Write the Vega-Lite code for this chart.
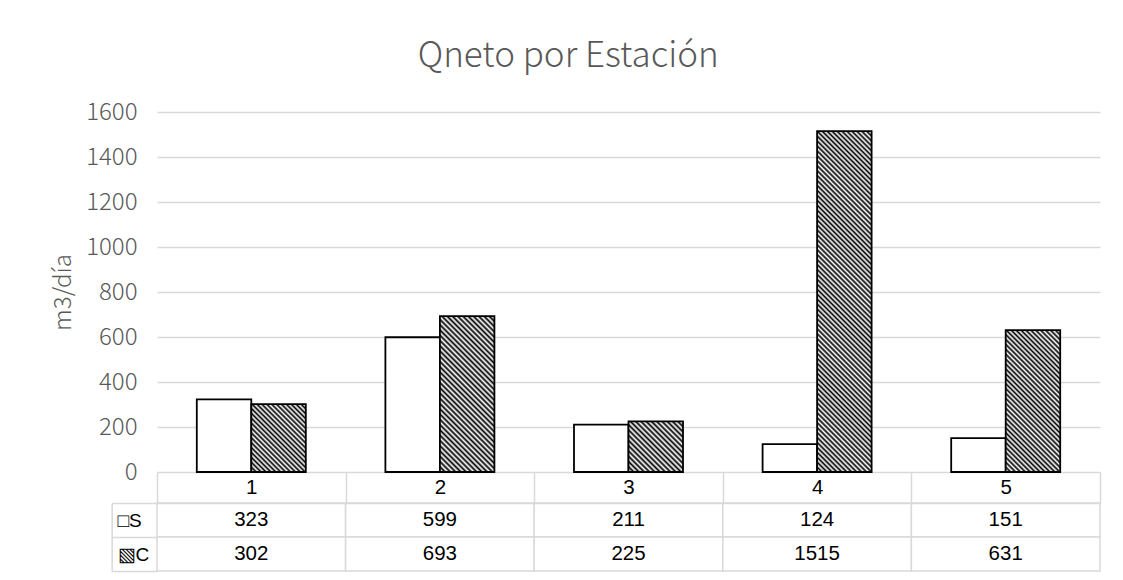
{
  "$schema": "https://vega.github.io/schema/vega-lite/v6.json",
  "padding": {"left": 51, "top": 39, "right": 15, "bottom": 5},
  "background": "white",
  "title": {"text": "Qneto por Estación", "fontSize": 35, "font": "Noto Sans CJK SC", "fontWeight": 300, "color": "#595959", "anchor": "middle", "offset": 26, "dx": -8},
  "data": {"values": [
    {"estacion": 1, "serie": "S", "valor": 323},
    {"estacion": 2, "serie": "S", "valor": 599},
    {"estacion": 3, "serie": "S", "valor": 211},
    {"estacion": 4, "serie": "S", "valor": 124},
    {"estacion": 5, "serie": "S", "valor": 151},
    {"estacion": 1, "serie": "C", "valor": 302},
    {"estacion": 2, "serie": "C", "valor": 693},
    {"estacion": 3, "serie": "C", "valor": 225},
    {"estacion": 4, "serie": "C", "valor": 1515},
    {"estacion": 5, "serie": "C", "valor": 631}
  ]},
  "bounds": "flush",
  "spacing": 31,
  "resolve": {"scale": {"x": "independent", "y": "independent"}},
  "vconcat": [
    {
      "width": 943,
      "height": 360,
      "mark": {"type": "bar", "stroke": "#000", "strokeWidth": 1.8},
      "encoding": {
        "x": {"field": "estacion", "type": "ordinal", "axis": null, "scale": {"paddingInner": 0.422, "paddingOuter": 0.211}},
        "xOffset": {"field": "serie", "type": "nominal", "sort": ["S", "C"], "scale": {"paddingInner": 0, "paddingOuter": 0}},
        "y": {"field": "valor", "type": "quantitative", "scale": {"domain": [0, 1600], "nice": false},
          "axis": {"values": [0, 200, 400, 600, 800, 1000, 1200, 1400, 1600], "format": "d", "title": "m3/día", "titleFont": "Noto Sans CJK SC", "titleFontWeight": 300, "titleFontSize": 24, "titleColor": "#595959", "titlePadding": 10,
            "labelFont": "Noto Sans CJK SC", "labelFontWeight": 300, "labelFontSize": 24, "labelColor": "#595959", "labelPadding": 20,
            "ticks": false, "domain": false, "grid": true, "gridColor": "#d9d9d9", "gridWidth": 1.5}},
        "fill": {
          "condition": [
            {"test": "datum.serie == 'C' && datum.estacion == 1", "value": {"gradient": "linear", "x1": 0, "y1": 1, "x2": 0.8796, "y2": -0.0967, "stops": [
              {"offset":0,"color":"#000"},{"offset":0.02,"color":"#fff"},{"offset":0.04,"color":"#000"},{"offset":0.06,"color":"#fff"},{"offset":0.08,"color":"#000"},{"offset":0.1,"color":"#fff"},{"offset":0.12,"color":"#000"},{"offset":0.14,"color":"#fff"},{"offset":0.16,"color":"#000"},{"offset":0.18,"color":"#fff"},
              {"offset":0.2,"color":"#000"},{"offset":0.22,"color":"#fff"},{"offset":0.24,"color":"#000"},{"offset":0.26,"color":"#fff"},{"offset":0.28,"color":"#000"},{"offset":0.3,"color":"#fff"},{"offset":0.32,"color":"#000"},{"offset":0.34,"color":"#fff"},{"offset":0.36,"color":"#000"},{"offset":0.38,"color":"#fff"},
              {"offset":0.4,"color":"#000"},{"offset":0.42,"color":"#fff"},{"offset":0.44,"color":"#000"},{"offset":0.46,"color":"#fff"},{"offset":0.48,"color":"#000"},{"offset":0.5,"color":"#fff"},{"offset":0.52,"color":"#000"},{"offset":0.54,"color":"#fff"},{"offset":0.56,"color":"#000"},{"offset":0.58,"color":"#fff"},
              {"offset":0.6,"color":"#000"},{"offset":0.62,"color":"#fff"},{"offset":0.64,"color":"#000"},{"offset":0.66,"color":"#fff"},{"offset":0.68,"color":"#000"},{"offset":0.7,"color":"#fff"},{"offset":0.72,"color":"#000"},{"offset":0.74,"color":"#fff"},{"offset":0.76,"color":"#000"},{"offset":0.78,"color":"#fff"},
              {"offset":0.8,"color":"#000"},{"offset":0.82,"color":"#fff"},{"offset":0.84,"color":"#000"},{"offset":0.86,"color":"#fff"},{"offset":0.88,"color":"#000"},{"offset":0.9,"color":"#fff"},{"offset":0.92,"color":"#000"},{"offset":0.94,"color":"#fff"},{"offset":0.96,"color":"#000"},{"offset":0.98,"color":"#fff"},
              {"offset":1,"color":"#000"}]}},
            {"test": "datum.serie == 'C' && datum.estacion == 2", "value": {"gradient": "linear", "x1": 0, "y1": 1, "x2": 0.4204, "y2": -0.2026, "stops": [
              {"offset":0,"color":"#000"},{"offset":0.0125,"color":"#fff"},{"offset":0.025,"color":"#000"},{"offset":0.0375,"color":"#fff"},{"offset":0.05,"color":"#000"},{"offset":0.0625,"color":"#fff"},{"offset":0.075,"color":"#000"},{"offset":0.0875,"color":"#fff"},
              {"offset":0.1,"color":"#000"},{"offset":0.1125,"color":"#fff"},{"offset":0.125,"color":"#000"},{"offset":0.1375,"color":"#fff"},{"offset":0.15,"color":"#000"},{"offset":0.1625,"color":"#fff"},{"offset":0.175,"color":"#000"},{"offset":0.1875,"color":"#fff"},
              {"offset":0.2,"color":"#000"},{"offset":0.2125,"color":"#fff"},{"offset":0.225,"color":"#000"},{"offset":0.2375,"color":"#fff"},{"offset":0.25,"color":"#000"},{"offset":0.2625,"color":"#fff"},{"offset":0.275,"color":"#000"},{"offset":0.2875,"color":"#fff"},
              {"offset":0.3,"color":"#000"},{"offset":0.3125,"color":"#fff"},{"offset":0.325,"color":"#000"},{"offset":0.3375,"color":"#fff"},{"offset":0.35,"color":"#000"},{"offset":0.3625,"color":"#fff"},{"offset":0.375,"color":"#000"},{"offset":0.3875,"color":"#fff"},
              {"offset":0.4,"color":"#000"},{"offset":0.4125,"color":"#fff"},{"offset":0.425,"color":"#000"},{"offset":0.4375,"color":"#fff"},{"offset":0.45,"color":"#000"},{"offset":0.4625,"color":"#fff"},{"offset":0.475,"color":"#000"},{"offset":0.4875,"color":"#fff"},
              {"offset":0.5,"color":"#000"},{"offset":0.5125,"color":"#fff"},{"offset":0.525,"color":"#000"},{"offset":0.5375,"color":"#fff"},{"offset":0.55,"color":"#000"},{"offset":0.5625,"color":"#fff"},{"offset":0.575,"color":"#000"},{"offset":0.5875,"color":"#fff"},
              {"offset":0.6,"color":"#000"},{"offset":0.6125,"color":"#fff"},{"offset":0.625,"color":"#000"},{"offset":0.6375,"color":"#fff"},{"offset":0.65,"color":"#000"},{"offset":0.6625,"color":"#fff"},{"offset":0.675,"color":"#000"},{"offset":0.6875,"color":"#fff"},
              {"offset":0.7,"color":"#000"},{"offset":0.7125,"color":"#fff"},{"offset":0.725,"color":"#000"},{"offset":0.7375,"color":"#fff"},{"offset":0.75,"color":"#000"},{"offset":0.7625,"color":"#fff"},{"offset":0.775,"color":"#000"},{"offset":0.7875,"color":"#fff"},
              {"offset":0.8,"color":"#000"},{"offset":0.8125,"color":"#fff"},{"offset":0.825,"color":"#000"},{"offset":0.8375,"color":"#fff"},{"offset":0.85,"color":"#000"},{"offset":0.8625,"color":"#fff"},{"offset":0.875,"color":"#000"},{"offset":0.8875,"color":"#fff"},
              {"offset":0.9,"color":"#000"},{"offset":0.9125,"color":"#fff"},{"offset":0.925,"color":"#000"},{"offset":0.9375,"color":"#fff"},{"offset":0.95,"color":"#000"},{"offset":0.9625,"color":"#fff"},{"offset":0.975,"color":"#000"},{"offset":0.9875,"color":"#fff"},
              {"offset":1,"color":"#000"}]}},
            {"test": "datum.serie == 'C' && datum.estacion == 3", "value": {"gradient": "linear", "x1": 0, "y1": 1, "x2": 1.0358, "y2": 0.0383, "stops": [
              {"offset":0,"color":"#000"},{"offset":0.025,"color":"#fff"},{"offset":0.05,"color":"#000"},{"offset":0.075,"color":"#fff"},{"offset":0.1,"color":"#000"},{"offset":0.125,"color":"#fff"},{"offset":0.15,"color":"#000"},{"offset":0.175,"color":"#fff"},
              {"offset":0.2,"color":"#000"},{"offset":0.225,"color":"#fff"},{"offset":0.25,"color":"#000"},{"offset":0.275,"color":"#fff"},{"offset":0.3,"color":"#000"},{"offset":0.325,"color":"#fff"},{"offset":0.35,"color":"#000"},{"offset":0.375,"color":"#fff"},
              {"offset":0.4,"color":"#000"},{"offset":0.425,"color":"#fff"},{"offset":0.45,"color":"#000"},{"offset":0.475,"color":"#fff"},{"offset":0.5,"color":"#000"},{"offset":0.525,"color":"#fff"},{"offset":0.55,"color":"#000"},{"offset":0.575,"color":"#fff"},
              {"offset":0.6,"color":"#000"},{"offset":0.625,"color":"#fff"},{"offset":0.65,"color":"#000"},{"offset":0.675,"color":"#fff"},{"offset":0.7,"color":"#000"},{"offset":0.725,"color":"#fff"},{"offset":0.75,"color":"#000"},{"offset":0.775,"color":"#fff"},
              {"offset":0.8,"color":"#000"},{"offset":0.825,"color":"#fff"},{"offset":0.85,"color":"#000"},{"offset":0.875,"color":"#fff"},{"offset":0.9,"color":"#000"},{"offset":0.925,"color":"#fff"},{"offset":0.95,"color":"#000"},{"offset":0.975,"color":"#fff"},
              {"offset":1,"color":"#000"}]}},
            {"test": "datum.serie == 'C' && datum.estacion == 4", "value": {"gradient": "linear", "x1": 0, "y1": 1, "x2": 0.1808, "y2": -0.131, "stops": [
              {"offset":0,"color":"#000"},{"offset":0.00625,"color":"#fff"},{"offset":0.0125,"color":"#000"},{"offset":0.01875,"color":"#fff"},{"offset":0.025,"color":"#000"},{"offset":0.03125,"color":"#fff"},{"offset":0.0375,"color":"#000"},{"offset":0.04375,"color":"#fff"},{"offset":0.05,"color":"#000"},{"offset":0.05625,"color":"#fff"},{"offset":0.0625,"color":"#000"},{"offset":0.06875,"color":"#fff"},{"offset":0.075,"color":"#000"},{"offset":0.08125,"color":"#fff"},{"offset":0.0875,"color":"#000"},{"offset":0.09375,"color":"#fff"},
              {"offset":0.1,"color":"#000"},{"offset":0.10625,"color":"#fff"},{"offset":0.1125,"color":"#000"},{"offset":0.11875,"color":"#fff"},{"offset":0.125,"color":"#000"},{"offset":0.13125,"color":"#fff"},{"offset":0.1375,"color":"#000"},{"offset":0.14375,"color":"#fff"},{"offset":0.15,"color":"#000"},{"offset":0.15625,"color":"#fff"},{"offset":0.1625,"color":"#000"},{"offset":0.16875,"color":"#fff"},{"offset":0.175,"color":"#000"},{"offset":0.18125,"color":"#fff"},{"offset":0.1875,"color":"#000"},{"offset":0.19375,"color":"#fff"},
              {"offset":0.2,"color":"#000"},{"offset":0.20625,"color":"#fff"},{"offset":0.2125,"color":"#000"},{"offset":0.21875,"color":"#fff"},{"offset":0.225,"color":"#000"},{"offset":0.23125,"color":"#fff"},{"offset":0.2375,"color":"#000"},{"offset":0.24375,"color":"#fff"},{"offset":0.25,"color":"#000"},{"offset":0.25625,"color":"#fff"},{"offset":0.2625,"color":"#000"},{"offset":0.26875,"color":"#fff"},{"offset":0.275,"color":"#000"},{"offset":0.28125,"color":"#fff"},{"offset":0.2875,"color":"#000"},{"offset":0.29375,"color":"#fff"},
              {"offset":0.3,"color":"#000"},{"offset":0.30625,"color":"#fff"},{"offset":0.3125,"color":"#000"},{"offset":0.31875,"color":"#fff"},{"offset":0.325,"color":"#000"},{"offset":0.33125,"color":"#fff"},{"offset":0.3375,"color":"#000"},{"offset":0.34375,"color":"#fff"},{"offset":0.35,"color":"#000"},{"offset":0.35625,"color":"#fff"},{"offset":0.3625,"color":"#000"},{"offset":0.36875,"color":"#fff"},{"offset":0.375,"color":"#000"},{"offset":0.38125,"color":"#fff"},{"offset":0.3875,"color":"#000"},{"offset":0.39375,"color":"#fff"},
              {"offset":0.4,"color":"#000"},{"offset":0.40625,"color":"#fff"},{"offset":0.4125,"color":"#000"},{"offset":0.41875,"color":"#fff"},{"offset":0.425,"color":"#000"},{"offset":0.43125,"color":"#fff"},{"offset":0.4375,"color":"#000"},{"offset":0.44375,"color":"#fff"},{"offset":0.45,"color":"#000"},{"offset":0.45625,"color":"#fff"},{"offset":0.4625,"color":"#000"},{"offset":0.46875,"color":"#fff"},{"offset":0.475,"color":"#000"},{"offset":0.48125,"color":"#fff"},{"offset":0.4875,"color":"#000"},{"offset":0.49375,"color":"#fff"},
              {"offset":0.5,"color":"#000"},{"offset":0.50625,"color":"#fff"},{"offset":0.5125,"color":"#000"},{"offset":0.51875,"color":"#fff"},{"offset":0.525,"color":"#000"},{"offset":0.53125,"color":"#fff"},{"offset":0.5375,"color":"#000"},{"offset":0.54375,"color":"#fff"},{"offset":0.55,"color":"#000"},{"offset":0.55625,"color":"#fff"},{"offset":0.5625,"color":"#000"},{"offset":0.56875,"color":"#fff"},{"offset":0.575,"color":"#000"},{"offset":0.58125,"color":"#fff"},{"offset":0.5875,"color":"#000"},{"offset":0.59375,"color":"#fff"},
              {"offset":0.6,"color":"#000"},{"offset":0.60625,"color":"#fff"},{"offset":0.6125,"color":"#000"},{"offset":0.61875,"color":"#fff"},{"offset":0.625,"color":"#000"},{"offset":0.63125,"color":"#fff"},{"offset":0.6375,"color":"#000"},{"offset":0.64375,"color":"#fff"},{"offset":0.65,"color":"#000"},{"offset":0.65625,"color":"#fff"},{"offset":0.6625,"color":"#000"},{"offset":0.66875,"color":"#fff"},{"offset":0.675,"color":"#000"},{"offset":0.68125,"color":"#fff"},{"offset":0.6875,"color":"#000"},{"offset":0.69375,"color":"#fff"},
              {"offset":0.7,"color":"#000"},{"offset":0.70625,"color":"#fff"},{"offset":0.7125,"color":"#000"},{"offset":0.71875,"color":"#fff"},{"offset":0.725,"color":"#000"},{"offset":0.73125,"color":"#fff"},{"offset":0.7375,"color":"#000"},{"offset":0.74375,"color":"#fff"},{"offset":0.75,"color":"#000"},{"offset":0.75625,"color":"#fff"},{"offset":0.7625,"color":"#000"},{"offset":0.76875,"color":"#fff"},{"offset":0.775,"color":"#000"},{"offset":0.78125,"color":"#fff"},{"offset":0.7875,"color":"#000"},{"offset":0.79375,"color":"#fff"},
              {"offset":0.8,"color":"#000"},{"offset":0.80625,"color":"#fff"},{"offset":0.8125,"color":"#000"},{"offset":0.81875,"color":"#fff"},{"offset":0.825,"color":"#000"},{"offset":0.83125,"color":"#fff"},{"offset":0.8375,"color":"#000"},{"offset":0.84375,"color":"#fff"},{"offset":0.85,"color":"#000"},{"offset":0.85625,"color":"#fff"},{"offset":0.8625,"color":"#000"},{"offset":0.86875,"color":"#fff"},{"offset":0.875,"color":"#000"},{"offset":0.88125,"color":"#fff"},{"offset":0.8875,"color":"#000"},{"offset":0.89375,"color":"#fff"},
              {"offset":0.9,"color":"#000"},{"offset":0.90625,"color":"#fff"},{"offset":0.9125,"color":"#000"},{"offset":0.91875,"color":"#fff"},{"offset":0.925,"color":"#000"},{"offset":0.93125,"color":"#fff"},{"offset":0.9375,"color":"#000"},{"offset":0.94375,"color":"#fff"},{"offset":0.95,"color":"#000"},{"offset":0.95625,"color":"#fff"},{"offset":0.9625,"color":"#000"},{"offset":0.96875,"color":"#fff"},{"offset":0.975,"color":"#000"},{"offset":0.98125,"color":"#fff"},{"offset":0.9875,"color":"#000"},{"offset":0.99375,"color":"#fff"},
              {"offset":1,"color":"#000"}]}},
            {"test": "datum.serie == 'C' && datum.estacion == 5", "value": {"gradient": "linear", "x1": 0, "y1": 1, "x2": 0.4629, "y2": -0.2061, "stops": [
              {"offset":0,"color":"#000"},{"offset":0.0125,"color":"#fff"},{"offset":0.025,"color":"#000"},{"offset":0.0375,"color":"#fff"},{"offset":0.05,"color":"#000"},{"offset":0.0625,"color":"#fff"},{"offset":0.075,"color":"#000"},{"offset":0.0875,"color":"#fff"},
              {"offset":0.1,"color":"#000"},{"offset":0.1125,"color":"#fff"},{"offset":0.125,"color":"#000"},{"offset":0.1375,"color":"#fff"},{"offset":0.15,"color":"#000"},{"offset":0.1625,"color":"#fff"},{"offset":0.175,"color":"#000"},{"offset":0.1875,"color":"#fff"},
              {"offset":0.2,"color":"#000"},{"offset":0.2125,"color":"#fff"},{"offset":0.225,"color":"#000"},{"offset":0.2375,"color":"#fff"},{"offset":0.25,"color":"#000"},{"offset":0.2625,"color":"#fff"},{"offset":0.275,"color":"#000"},{"offset":0.2875,"color":"#fff"},
              {"offset":0.3,"color":"#000"},{"offset":0.3125,"color":"#fff"},{"offset":0.325,"color":"#000"},{"offset":0.3375,"color":"#fff"},{"offset":0.35,"color":"#000"},{"offset":0.3625,"color":"#fff"},{"offset":0.375,"color":"#000"},{"offset":0.3875,"color":"#fff"},
              {"offset":0.4,"color":"#000"},{"offset":0.4125,"color":"#fff"},{"offset":0.425,"color":"#000"},{"offset":0.4375,"color":"#fff"},{"offset":0.45,"color":"#000"},{"offset":0.4625,"color":"#fff"},{"offset":0.475,"color":"#000"},{"offset":0.4875,"color":"#fff"},
              {"offset":0.5,"color":"#000"},{"offset":0.5125,"color":"#fff"},{"offset":0.525,"color":"#000"},{"offset":0.5375,"color":"#fff"},{"offset":0.55,"color":"#000"},{"offset":0.5625,"color":"#fff"},{"offset":0.575,"color":"#000"},{"offset":0.5875,"color":"#fff"},
              {"offset":0.6,"color":"#000"},{"offset":0.6125,"color":"#fff"},{"offset":0.625,"color":"#000"},{"offset":0.6375,"color":"#fff"},{"offset":0.65,"color":"#000"},{"offset":0.6625,"color":"#fff"},{"offset":0.675,"color":"#000"},{"offset":0.6875,"color":"#fff"},
              {"offset":0.7,"color":"#000"},{"offset":0.7125,"color":"#fff"},{"offset":0.725,"color":"#000"},{"offset":0.7375,"color":"#fff"},{"offset":0.75,"color":"#000"},{"offset":0.7625,"color":"#fff"},{"offset":0.775,"color":"#000"},{"offset":0.7875,"color":"#fff"},
              {"offset":0.8,"color":"#000"},{"offset":0.8125,"color":"#fff"},{"offset":0.825,"color":"#000"},{"offset":0.8375,"color":"#fff"},{"offset":0.85,"color":"#000"},{"offset":0.8625,"color":"#fff"},{"offset":0.875,"color":"#000"},{"offset":0.8875,"color":"#fff"},
              {"offset":0.9,"color":"#000"},{"offset":0.9125,"color":"#fff"},{"offset":0.925,"color":"#000"},{"offset":0.9375,"color":"#fff"},{"offset":0.95,"color":"#000"},{"offset":0.9625,"color":"#fff"},{"offset":0.975,"color":"#000"},{"offset":0.9875,"color":"#fff"},
              {"offset":1,"color":"#000"}]}}
          ],
          "value": "#ffffff"
        }
      }
    },
    {
      "width": 943,
      "height": 68,
      "encoding": {
        "x": {"field": "estacion", "type": "ordinal", "scale": {"paddingInner": 0, "paddingOuter": 0},
          "axis": {"orient": "top", "title": null, "tickBand": "extent", "tickSize": 31, "tickColor": "#d9d9d9", "tickWidth": 1.5, "domainColor": "#d9d9d9", "domainWidth": 1.5, "labelAngle": 0, "labelFont": "Liberation Sans", "labelFontSize": 20.5, "labelColor": "#000", "labelBaseline": "middle", "labelPadding": -15.5}},
        "y": {"field": "serie", "type": "nominal", "sort": ["S", "C"], "scale": {"paddingInner": 0, "paddingOuter": 0},
          "axis": {"title": null, "orient": "left", "offset": 45.3, "tickBand": "extent", "tickSize": -45.3, "tickColor": "#d9d9d9", "tickWidth": 1.5, "domainColor": "#d9d9d9", "domainWidth": 1.5, "labelAlign": "left", "labelPadding": 40, "labelFont": "Liberation Sans", "labelFontSize": 19, "labelColor": "#000", "labelExpr": "datum.value == 'S' ? '□S' : (datum.value == 'C' ? '▧C' : '')"}}
      },
      "layer": [
        {"mark": {"type": "rect", "fill": "#ffffff", "stroke": "#d9d9d9", "strokeWidth": 1.5}},
        {"mark": {"type": "text", "font": "Liberation Sans", "fontSize": 20.5, "color": "#000"}, "encoding": {"text": {"field": "valor", "type": "quantitative", "format": "d"}}}
      ]
    }
  ],
  "config": {"view": {"stroke": null}}
}
